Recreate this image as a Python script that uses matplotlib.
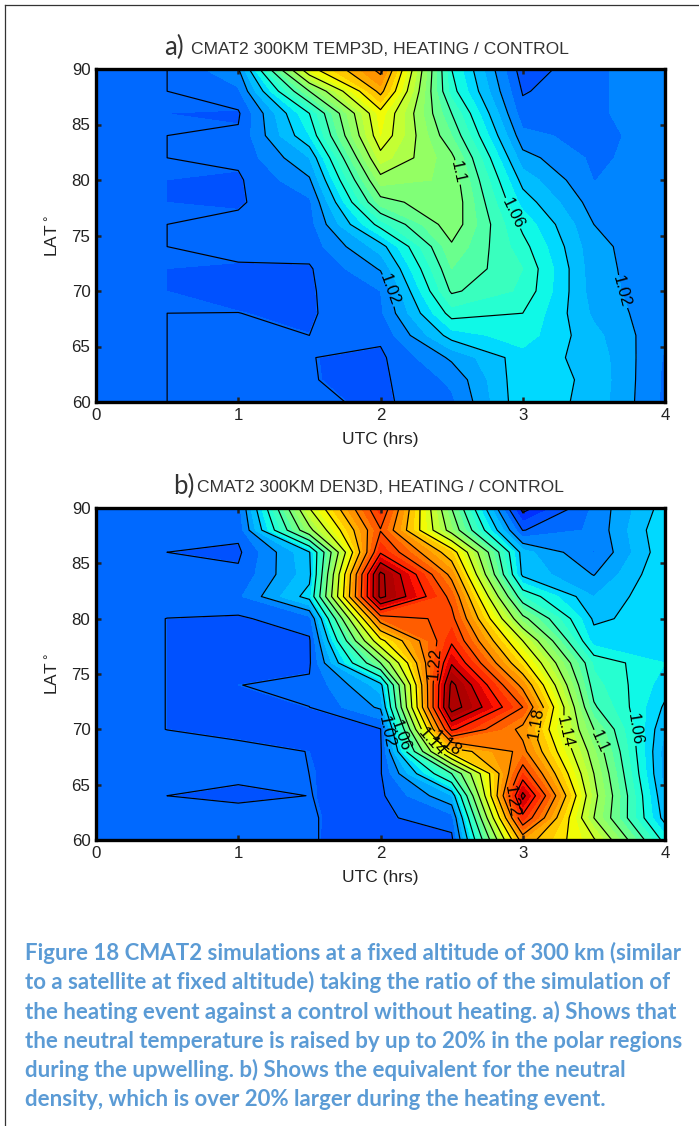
# -*- coding: utf-8 -*-
# CMAT2 300 km ratio plots, heating / control
import numpy as np
import matplotlib
matplotlib.use('Agg')
import matplotlib.pyplot as plt
from matplotlib.colors import ListedColormap

utc = [0, 0.5, 1, 1.5, 2, 2.5, 3, 3.5, 4]
lat = [90, 88, 86, 84, 82, 80, 78, 76, 74, 72, 70, 68, 66, 64, 62, 60]

# panel a, temperature ratio, one list per UTC column (lat 90 down to 60)
temp_00 = [1.0] * 16
temp_05 = [1.0, 1.0, 0.999899, 1.0, 1.0, 0.999899, 0.999899, 1.0, 1.0, 0.999899, 0.999899, 1.0, 1.0, 1.0, 1.0, 1.0]
temp_10 = [1.019, 1.008, 0.9985, 1.0015, 1.002, 0.9985, 0.9989, 1.002, 1.0035, 0.9985, 0.9985, 1.00005, 1.003, 1.003, 1.003, 1.003]
temp_15 = [1.155, 1.10, 1.06, 1.05, 1.03, 1.0185, 1.008, 1.006, 1.004, 0.9989, 0.9989, 0.9989, 1.0, 1.0002, 1.0003, 1.002]
temp_20 = [1.205, 1.185, 1.155, 1.15, 1.135, 1.115, 1.095, 1.065, 1.035, 1.021, 1.01, 1.008, 1.002, 0.998, 0.998, 0.998]
temp_25 = [1.06, 1.065, 1.08, 1.09, 1.103, 1.108, 1.11, 1.108, 1.098, 1.09, 1.082, 1.065, 1.045, 1.022, 1.012, 1.008]
temp_30 = [0.994, 0.999, 1.004, 1.013, 1.024, 1.036, 1.046, 1.057, 1.064, 1.07, 1.068, 1.06, 1.055, 1.046, 1.048, 1.048]
temp_35 = [1.008, 1.008, 1.008, 1.006, 1.008, 1.0098, 1.015, 1.02, 1.023, 1.024, 1.025, 1.028, 1.033, 1.036, 1.037, 1.036]
temp_40 = [1.017, 1.017, 1.017, 1.016, 1.015, 1.015, 1.015, 1.015, 1.012, 1.012, 1.012, 1.012, 1.011, 1.009, 1.008, 1.008]

# panel b, density ratio
dens_00 = [1.004] * 16
dens_05 = [1.004, 1.004, 0.99999, 1.004, 1.004, 0.99989, 0.99989, 0.99989, 0.99989, 0.99989, 0.99989, 1.004, 1.004, 0.99999, 1.004, 1.004]
dens_10 = [1.006, 1.003, 0.998, 1.002, 1.008, 0.9985, 0.9985, 0.9985, 0.9999, 0.9985, 0.9985, 1.0015, 1.002, 0.998, 1.004, 1.003]
dens_15 = [1.14, 1.115, 1.039, 1.036, 1.045, 1.006, 0.9985, 0.9985, 1.0015, 0.99995, 0.9985, 0.9999, 0.99999, 1.0001, 1.0003, 1.0006]
dens_20 = [1.235, 1.219, 1.238, 1.285, 1.285, 1.21, 1.155, 1.10, 1.035, 1.022, 0.9995, 0.998, 0.999, 0.998, 0.998, 0.996]
dens_25 = [1.10, 1.112, 1.17, 1.195, 1.215, 1.225, 1.237, 1.258, 1.285, 1.29, 1.243, 1.17, 1.08, 1.03, 1.006, 0.997]
dens_30 = [0.975, 0.9995, 1.034, 1.037, 1.07, 1.105, 1.14, 1.165, 1.195, 1.22, 1.195, 1.205, 1.23, 1.265, 1.235, 1.189]
dens_35 = [1.012, 1.012, 1.0095, 1.0195, 1.03, 1.038, 1.045, 1.068, 1.074, 1.082, 1.10, 1.112, 1.12, 1.125, 1.12, 1.142]
dens_40 = [1.045, 1.05, 1.048, 1.05, 1.05, 1.045, 1.048, 1.05, 1.045, 1.038, 1.03, 1.025, 1.025, 1.03, 1.035, 1.055]

line_levels = [0.98, 1.0, 1.02, 1.04, 1.06, 1.08, 1.1, 1.12, 1.14, 1.16, 1.18, 1.2, 1.22, 1.24, 1.26, 1.28]
fill_levels = [0.96, 0.97, 0.98, 0.99, 0.9999, 1.01, 1.02, 1.03, 1.04, 1.05, 1.06, 1.07, 1.08, 1.09, 1.10,
               1.11, 1.12, 1.13, 1.14, 1.15, 1.16, 1.17, 1.18, 1.19, 1.20, 1.21, 1.22, 1.23, 1.24, 1.25,
               1.26, 1.27, 1.28, 1.29, 1.30]

temp_labels = [1.02, 1.1, 1.06, 1.02]
temp_label_xy = [(2.05, 70.0), (2.58, 80.8), (2.93, 77.0), (3.67, 69.8)]
dens_labels = [1.02, 1.06, 1.14, 1.18, 1.22, 1.22, 1.18, 1.14, 1.1, 1.06]
dens_label_xy = [(2.02, 69.7), (2.2, 69.7), (2.38, 69.0), (2.49, 69.0), (2.32, 76.0),
                 (3.0, 63.9), (3.19, 70.0), (3.35, 70.0), (3.55, 69.0), (3.77, 70.0)]

W, H = 699.0, 1126.0
plt.rcParams['font.family'] = ['Liberation Sans', 'DejaVu Sans']
fig = plt.figure(figsize=(6.99, 11.26), dpi=100)

# jet with the darkest reds cut off, the peaks never go fully maroon
cmap_used = ListedColormap(plt.get_cmap('jet')(np.linspace(0, 0.96, 256)))


def panel(top, bottom, cols, labels, label_xy):
    ax = fig.add_axes([96 / W, 1 - bottom / H, (665 - 96) / W, (bottom - top) / H])
    z = np.column_stack(cols)
    ax.contourf(utc, lat, z, levels=fill_levels, cmap=cmap_used, vmin=0.921, vmax=1.271)
    ax.set_xlim(0, 4)
    ax.set_ylim(60, 90)
    # one contour set per level, clabel manual gets confused by a subset of levels
    for lev in line_levels:
        if lev < z.min() or lev > z.max():
            continue
        cs = ax.contour(utc, lat, z, levels=[lev], colors='k', linewidths=0.85, linestyles='solid')
        pts = [xy for l, xy in zip(labels, label_xy) if abs(l - lev) < 1e-6]
        if pts:
            ax.clabel(cs, manual=pts, fmt='%g', fontsize=12, inline=True, inline_spacing=1, colors='k')
    ax.set_xticks([0, 1, 2, 3, 4])
    ax.set_yticks([60, 65, 70, 75, 80, 85, 90])
    ax.tick_params(direction='in', length=3.5, width=1.8, top=True, right=True, labelsize=12.2,
                   pad=4, colors='#222222')
    for s in ax.spines.values():
        s.set_linewidth(2.4)
    ax.set_xlabel('UTC (hrs)', fontsize=12.5, labelpad=7, color='#222222')
    ax.set_ylabel('LAT$^\\circ$', fontsize=12.5, labelpad=8, color='#222222')
    return ax


panel(69, 402, [temp_00, temp_05, temp_10, temp_15, temp_20, temp_25, temp_30, temp_35, temp_40],
      temp_labels, temp_label_xy)
panel(508, 840, [dens_00, dens_05, dens_10, dens_15, dens_20, dens_25, dens_30, dens_35, dens_40],
      dens_labels, dens_label_xy)

# titles, the a) and b) are bigger and in the document font
fig.text(164 / W, 1 - 47 / H, 'a)', fontsize=18.5, family='Lato', color='#333333', va='center')
fig.text(191 / W, 1 - 49 / H, 'CMAT2 300KM TEMP3D, HEATING / CONTROL', fontsize=12.6, color='#333333', va='center')
fig.text(173 / W, 1 - 486 / H, 'b)', fontsize=18.5, family='Lato', color='#333333', va='center')
fig.text(197 / W, 1 - 488 / H, 'CMAT2 300KM DEN3D, HEATING / CONTROL', fontsize=12.6, color='#333333', va='center')

caption = ['Figure 18 CMAT2 simulations at a fixed altitude of 300 km (similar',
           'to a satellite at fixed altitude) taking the ratio of the simulation of',
           'the heating event against a control without heating. a) Shows that',
           'the neutral temperature is raised by up to 20% in the polar regions',
           'during the upwelling. b) Shows the equivalent for the neutral',
           'density, which is over 20% larger during the heating event.']
cap_y = [953, 982, 1012, 1041, 1070, 1099]
for line, y in zip(caption, cap_y):
    fig.text(25 / W, 1 - y / H, line, fontsize=16, family='Lato', weight='bold', color='#5b9bd5', va='center')

# page border of the source document
fig.add_artist(plt.Line2D([4.5 / W, 4.5 / W], [0, 1 - 5 / H], color='#333333', lw=0.9))
fig.add_artist(plt.Line2D([4.5 / W, 1], [1 - 5 / H, 1 - 5 / H], color='#333333', lw=0.9))

fig.savefig('out.png', dpi=100)
